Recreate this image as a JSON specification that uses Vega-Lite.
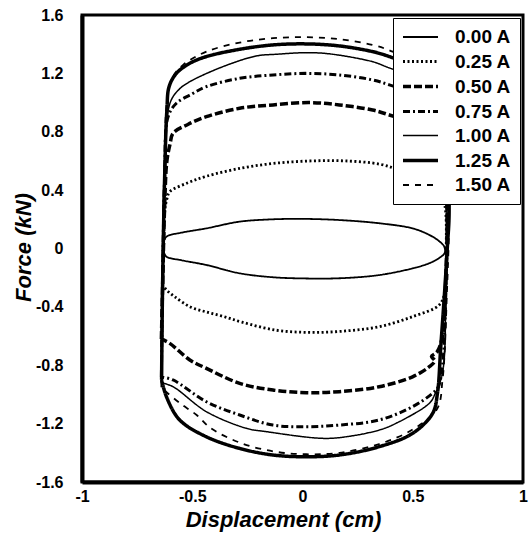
{
  "$schema": "https://vega.github.io/schema/vega-lite/v6.json",
  "width": 441,
  "height": 467,
  "autosize": {"type": "none"},
  "padding": {"left": 82, "top": 15, "right": 8, "bottom": 61},
  "background": "white",
  "datasets": {
    "loops": [
      {"s":"0.00 A","o":0,"x":-0.63,"y":-0.02},{"s":"0.00 A","o":1,"x":-0.632,"y":0.03},{"s":"0.00 A","o":2,"x":-0.617,"y":0.081},{"s":"0.00 A","o":3,"x":-0.55,"y":0.108},{"s":"0.00 A","o":4,"x":-0.436,"y":0.138},{"s":"0.00 A","o":5,"x":-0.285,"y":0.184},{"s":"0.00 A","o":6,"x":-0.134,"y":0.2},{"s":"0.00 A","o":7,"x":0.0,"y":0.203},{"s":"0.00 A","o":8,"x":0.167,"y":0.195},{"s":"0.00 A","o":9,"x":0.348,"y":0.173},{"s":"0.00 A","o":10,"x":0.499,"y":0.138},{"s":"0.00 A","o":11,"x":0.575,"y":0.093},{"s":"0.00 A","o":12,"x":0.62,"y":0.05},{"s":"0.00 A","o":13,"x":0.643,"y":0.012},{"s":"0.00 A","o":14,"x":0.645,"y":-0.03},{"s":"0.00 A","o":15,"x":0.62,"y":-0.065},{"s":"0.00 A","o":16,"x":0.575,"y":-0.101},{"s":"0.00 A","o":17,"x":0.499,"y":-0.136},{"s":"0.00 A","o":18,"x":0.348,"y":-0.182},{"s":"0.00 A","o":19,"x":0.167,"y":-0.204},{"s":"0.00 A","o":20,"x":0.0,"y":-0.205},{"s":"0.00 A","o":21,"x":-0.134,"y":-0.197},{"s":"0.00 A","o":22,"x":-0.285,"y":-0.17},{"s":"0.00 A","o":23,"x":-0.436,"y":-0.113},{"s":"0.00 A","o":24,"x":-0.55,"y":-0.08},{"s":"0.00 A","o":25,"x":-0.617,"y":-0.056},{"s":"0.00 A","o":26,"x":-0.63,"y":-0.02},

      {"s":"0.25 A","o":0,"x":-0.635,"y":-0.25},{"s":"0.25 A","o":1,"x":-0.63,"y":0.0},{"s":"0.25 A","o":2,"x":-0.625,"y":0.25},{"s":"0.25 A","o":3,"x":-0.615,"y":0.34},{"s":"0.25 A","o":4,"x":-0.602,"y":0.389},{"s":"0.25 A","o":5,"x":-0.52,"y":0.45},{"s":"0.25 A","o":6,"x":-0.436,"y":0.495},{"s":"0.25 A","o":7,"x":-0.274,"y":0.552},{"s":"0.25 A","o":8,"x":-0.118,"y":0.585},{"s":"0.25 A","o":9,"x":0.039,"y":0.6},{"s":"0.25 A","o":10,"x":0.196,"y":0.6},{"s":"0.25 A","o":11,"x":0.353,"y":0.577},{"s":"0.25 A","o":12,"x":0.45,"y":0.53},{"s":"0.25 A","o":13,"x":0.55,"y":0.47},{"s":"0.25 A","o":14,"x":0.62,"y":0.4},{"s":"0.25 A","o":15,"x":0.645,"y":0.3},{"s":"0.25 A","o":16,"x":0.652,"y":0.0},{"s":"0.25 A","o":17,"x":0.645,"y":-0.3},{"s":"0.25 A","o":18,"x":0.62,"y":-0.387},{"s":"0.25 A","o":19,"x":0.499,"y":-0.467},{"s":"0.25 A","o":20,"x":0.348,"y":-0.536},{"s":"0.25 A","o":21,"x":0.196,"y":-0.565},{"s":"0.25 A","o":22,"x":0.039,"y":-0.575},{"s":"0.25 A","o":23,"x":-0.118,"y":-0.56},{"s":"0.25 A","o":24,"x":-0.274,"y":-0.505},{"s":"0.25 A","o":25,"x":-0.36,"y":-0.465},{"s":"0.25 A","o":26,"x":-0.436,"y":-0.435},{"s":"0.25 A","o":27,"x":-0.511,"y":-0.399},{"s":"0.25 A","o":28,"x":-0.58,"y":-0.33},{"s":"0.25 A","o":29,"x":-0.617,"y":-0.284},{"s":"0.25 A","o":30,"x":-0.635,"y":-0.25},

      {"s":"0.50 A","o":0,"x":-0.64,"y":-0.62},{"s":"0.50 A","o":1,"x":-0.635,"y":-0.3},{"s":"0.50 A","o":2,"x":-0.625,"y":0.3},{"s":"0.50 A","o":3,"x":-0.615,"y":0.6},{"s":"0.50 A","o":4,"x":-0.6,"y":0.72},{"s":"0.50 A","o":5,"x":-0.587,"y":0.79},{"s":"0.50 A","o":6,"x":-0.52,"y":0.85},{"s":"0.50 A","o":7,"x":-0.436,"y":0.903},{"s":"0.50 A","o":8,"x":-0.285,"y":0.961},{"s":"0.50 A","o":9,"x":-0.134,"y":0.984},{"s":"0.50 A","o":10,"x":0.032,"y":1.0},{"s":"0.50 A","o":11,"x":0.167,"y":0.984},{"s":"0.50 A","o":12,"x":0.318,"y":0.949},{"s":"0.50 A","o":13,"x":0.394,"y":0.915},{"s":"0.50 A","o":14,"x":0.5,"y":0.86},{"s":"0.50 A","o":15,"x":0.6,"y":0.78},{"s":"0.50 A","o":16,"x":0.64,"y":0.65},{"s":"0.50 A","o":17,"x":0.655,"y":0.3},{"s":"0.50 A","o":18,"x":0.65,"y":-0.2},{"s":"0.50 A","o":19,"x":0.635,"y":-0.6},{"s":"0.50 A","o":20,"x":0.61,"y":-0.71},{"s":"0.50 A","o":21,"x":0.585,"y":-0.74},{"s":"0.50 A","o":22,"x":0.6,"y":-0.77},{"s":"0.50 A","o":23,"x":0.575,"y":-0.81},{"s":"0.50 A","o":24,"x":0.499,"y":-0.879},{"s":"0.50 A","o":25,"x":0.348,"y":-0.947},{"s":"0.50 A","o":26,"x":0.167,"y":-0.981},{"s":"0.50 A","o":27,"x":0.017,"y":-0.988},{"s":"0.50 A","o":28,"x":-0.134,"y":-0.97},{"s":"0.50 A","o":29,"x":-0.285,"y":-0.924},{"s":"0.50 A","o":30,"x":-0.436,"y":-0.821},{"s":"0.50 A","o":31,"x":-0.511,"y":-0.764},{"s":"0.50 A","o":32,"x":-0.602,"y":-0.65},{"s":"0.50 A","o":33,"x":-0.64,"y":-0.62},

      {"s":"0.75 A","o":0,"x":-0.64,"y":-0.88},{"s":"0.75 A","o":1,"x":-0.635,"y":-0.3},{"s":"0.75 A","o":2,"x":-0.625,"y":0.5},{"s":"0.75 A","o":3,"x":-0.61,"y":0.9},{"s":"0.75 A","o":4,"x":-0.572,"y":0.995},{"s":"0.75 A","o":5,"x":-0.5,"y":1.06},{"s":"0.75 A","o":6,"x":-0.436,"y":1.109},{"s":"0.75 A","o":7,"x":-0.285,"y":1.166},{"s":"0.75 A","o":8,"x":-0.134,"y":1.189},{"s":"0.75 A","o":9,"x":0.017,"y":1.2},{"s":"0.75 A","o":10,"x":0.167,"y":1.189},{"s":"0.75 A","o":11,"x":0.318,"y":1.155},{"s":"0.75 A","o":12,"x":0.394,"y":1.121},{"s":"0.75 A","o":13,"x":0.5,"y":1.06},{"s":"0.75 A","o":14,"x":0.6,"y":0.97},{"s":"0.75 A","o":15,"x":0.645,"y":0.8},{"s":"0.75 A","o":16,"x":0.655,"y":0.3},{"s":"0.75 A","o":17,"x":0.65,"y":-0.3},{"s":"0.75 A","o":18,"x":0.635,"y":-0.8},{"s":"0.75 A","o":19,"x":0.615,"y":-0.95},{"s":"0.75 A","o":20,"x":0.59,"y":-0.992},{"s":"0.75 A","o":21,"x":0.499,"y":-1.084},{"s":"0.75 A","o":22,"x":0.348,"y":-1.175},{"s":"0.75 A","o":23,"x":0.167,"y":-1.21},{"s":"0.75 A","o":24,"x":0.017,"y":-1.221},{"s":"0.75 A","o":25,"x":-0.134,"y":-1.21},{"s":"0.75 A","o":26,"x":-0.285,"y":-1.141},{"s":"0.75 A","o":27,"x":-0.436,"y":-1.05},{"s":"0.75 A","o":28,"x":-0.587,"y":-0.901},{"s":"0.75 A","o":29,"x":-0.64,"y":-0.88},

      {"s":"1.00 A","o":0,"x":-0.64,"y":-0.92},{"s":"1.00 A","o":1,"x":-0.635,"y":-0.3},{"s":"1.00 A","o":2,"x":-0.625,"y":0.6},{"s":"1.00 A","o":3,"x":-0.6,"y":1.0},{"s":"1.00 A","o":4,"x":-0.56,"y":1.09},{"s":"1.00 A","o":5,"x":-0.511,"y":1.143},{"s":"1.00 A","o":6,"x":-0.361,"y":1.246},{"s":"1.00 A","o":7,"x":-0.21,"y":1.319},{"s":"1.00 A","o":8,"x":-0.119,"y":1.331},{"s":"1.00 A","o":9,"x":0.032,"y":1.342},{"s":"1.00 A","o":10,"x":0.137,"y":1.331},{"s":"1.00 A","o":11,"x":0.318,"y":1.28},{"s":"1.00 A","o":12,"x":0.379,"y":1.246},{"s":"1.00 A","o":13,"x":0.5,"y":1.17},{"s":"1.00 A","o":14,"x":0.6,"y":1.05},{"s":"1.00 A","o":15,"x":0.645,"y":0.85},{"s":"1.00 A","o":16,"x":0.655,"y":0.3},{"s":"1.00 A","o":17,"x":0.65,"y":-0.3},{"s":"1.00 A","o":18,"x":0.635,"y":-0.85},{"s":"1.00 A","o":19,"x":0.6,"y":-1.0},{"s":"1.00 A","o":20,"x":0.575,"y":-1.061},{"s":"1.00 A","o":21,"x":0.424,"y":-1.198},{"s":"1.00 A","o":22,"x":0.348,"y":-1.244},{"s":"1.00 A","o":23,"x":0.198,"y":-1.29},{"s":"1.00 A","o":24,"x":0.092,"y":-1.301},{"s":"1.00 A","o":25,"x":-0.164,"y":-1.255},{"s":"1.00 A","o":26,"x":-0.255,"y":-1.232},{"s":"1.00 A","o":27,"x":-0.436,"y":-1.118},{"s":"1.00 A","o":28,"x":-0.587,"y":-0.947},{"s":"1.00 A","o":29,"x":-0.64,"y":-0.92},

      {"s":"1.25 A","o":0,"x":-0.639,"y":-0.9},{"s":"1.25 A","o":1,"x":-0.635,"y":-0.3},{"s":"1.25 A","o":2,"x":-0.625,"y":0.5},{"s":"1.25 A","o":3,"x":-0.615,"y":0.95},{"s":"1.25 A","o":4,"x":-0.605,"y":1.109},{"s":"1.25 A","o":5,"x":-0.572,"y":1.2},{"s":"1.25 A","o":6,"x":-0.511,"y":1.269},{"s":"1.25 A","o":7,"x":-0.436,"y":1.315},{"s":"1.25 A","o":8,"x":-0.285,"y":1.365},{"s":"1.25 A","o":9,"x":-0.134,"y":1.395},{"s":"1.25 A","o":10,"x":0.017,"y":1.402},{"s":"1.25 A","o":11,"x":0.167,"y":1.388},{"s":"1.25 A","o":12,"x":0.318,"y":1.349},{"s":"1.25 A","o":13,"x":0.394,"y":1.315},{"s":"1.25 A","o":14,"x":0.5,"y":1.25},{"s":"1.25 A","o":15,"x":0.6,"y":1.15},{"s":"1.25 A","o":16,"x":0.645,"y":0.95},{"s":"1.25 A","o":17,"x":0.665,"y":0.264},{"s":"1.25 A","o":18,"x":0.657,"y":0.012},{"s":"1.25 A","o":19,"x":0.643,"y":-0.33},{"s":"1.25 A","o":20,"x":0.627,"y":-0.673},{"s":"1.25 A","o":21,"x":0.612,"y":-0.992},{"s":"1.25 A","o":22,"x":0.59,"y":-1.13},{"s":"1.25 A","o":23,"x":0.499,"y":-1.267},{"s":"1.25 A","o":24,"x":0.348,"y":-1.358},{"s":"1.25 A","o":25,"x":0.167,"y":-1.415},{"s":"1.25 A","o":26,"x":0.017,"y":-1.427},{"s":"1.25 A","o":27,"x":-0.134,"y":-1.415},{"s":"1.25 A","o":28,"x":-0.285,"y":-1.37},{"s":"1.25 A","o":29,"x":-0.436,"y":-1.29},{"s":"1.25 A","o":30,"x":-0.557,"y":-1.175},{"s":"1.25 A","o":31,"x":-0.617,"y":-1.016},{"s":"1.25 A","o":32,"x":-0.639,"y":-0.9},

      {"s":"1.50 A","o":0,"x":-0.64,"y":-0.95},{"s":"1.50 A","o":1,"x":-0.635,"y":-0.3},{"s":"1.50 A","o":2,"x":-0.625,"y":0.6},{"s":"1.50 A","o":3,"x":-0.615,"y":1.0},{"s":"1.50 A","o":4,"x":-0.59,"y":1.17},{"s":"1.50 A","o":5,"x":-0.54,"y":1.26},{"s":"1.50 A","o":6,"x":-0.436,"y":1.349},{"s":"1.50 A","o":7,"x":-0.285,"y":1.411},{"s":"1.50 A","o":8,"x":-0.134,"y":1.441},{"s":"1.50 A","o":9,"x":0.017,"y":1.448},{"s":"1.50 A","o":10,"x":0.167,"y":1.434},{"s":"1.50 A","o":11,"x":0.318,"y":1.395},{"s":"1.50 A","o":12,"x":0.409,"y":1.349},{"s":"1.50 A","o":13,"x":0.5,"y":1.28},{"s":"1.50 A","o":14,"x":0.6,"y":1.17},{"s":"1.50 A","o":15,"x":0.65,"y":0.95},{"s":"1.50 A","o":16,"x":0.665,"y":0.3},{"s":"1.50 A","o":17,"x":0.655,"y":-0.3},{"s":"1.50 A","o":18,"x":0.635,"y":-0.9},{"s":"1.50 A","o":19,"x":0.61,"y":-1.1},{"s":"1.50 A","o":20,"x":0.5,"y":-1.24},{"s":"1.50 A","o":21,"x":0.348,"y":-1.34},{"s":"1.50 A","o":22,"x":0.167,"y":-1.4},{"s":"1.50 A","o":23,"x":0.017,"y":-1.41},{"s":"1.50 A","o":24,"x":-0.134,"y":-1.39},{"s":"1.50 A","o":25,"x":-0.285,"y":-1.33},{"s":"1.50 A","o":26,"x":-0.417,"y":-1.23},{"s":"1.50 A","o":27,"x":-0.48,"y":-1.141},{"s":"1.50 A","o":28,"x":-0.557,"y":-1.059},{"s":"1.50 A","o":29,"x":-0.62,"y":-0.98},{"s":"1.50 A","o":30,"x":-0.64,"y":-0.95}
    ]
  },
  "data": {"name": "loops"},
  "mark": {"type": "line", "color": "black", "interpolate": "catmull-rom", "strokeCap": "butt", "strokeJoin": "round"},
  "encoding": {
    "x": {
      "field": "x", "type": "quantitative",
      "scale": {"domain": [-1, 1], "nice": false, "zero": false},
      "axis": {
        "title": "Displacement (cm)",
        "values": [-1, -0.5, 0, 0.5, 1],
        "labelExpr": "datum.value < 0 ? '-' + format(-datum.value, '~g') : format(datum.value, '~g')",
        "grid": false, "ticks": false,
        "domainWidth": 4, "domainColor": "black",
        "labelFont": "Liberation Sans", "labelFontSize": 16, "labelFontWeight": "bold", "labelColor": "black",
        "labelPadding": 6, "labelFlush": false,
        "titleFont": "Liberation Sans", "titleFontSize": 22, "titleFontWeight": "bold", "titleFontStyle": "italic", "titleColor": "black",
        "titleX": 201, "titleY": 27, "titleBaseline": "top", "titleAlign": "center"
      }
    },
    "y": {
      "field": "y", "type": "quantitative",
      "scale": {"domain": [-1.6, 1.6], "nice": false, "zero": false},
      "axis": {
        "title": "Force (kN)",
        "values": [-1.6, -1.2, -0.8, -0.4, 0, 0.4, 0.8, 1.2, 1.6],
        "labelExpr": "datum.value < 0 ? '-' + format(-datum.value, '~g') : format(datum.value, '~g')",
        "grid": false, "ticks": false,
        "domainWidth": 4, "domainColor": "black",
        "labelFont": "Liberation Sans", "labelFontSize": 16, "labelFontWeight": "bold", "labelColor": "black",
        "labelPadding": 19, "labelFlush": false,
        "titleFont": "Liberation Sans", "titleFontSize": 22, "titleFontWeight": "bold", "titleFontStyle": "italic", "titleColor": "black",
        "titleX": -52, "titleY": 232, "titleAngle": 270, "titleBaseline": "alphabetic", "titleAlign": "center"
      }
    },
    "order": {"field": "o", "type": "quantitative"},
    "strokeDash": {
      "field": "s", "type": "nominal",
      "scale": {
        "domain": ["0.00 A", "0.25 A", "0.50 A", "0.75 A", "1.00 A", "1.25 A", "1.50 A"],
        "range": [[1, 0], [2, 2.5], [8, 3], [7, 3, 2, 3], [1, 0], [1, 0], [6, 6]]
      },
      "legend": {
        "title": null, "orient": "none", "legendX": 311, "legendY": 3,
        "padding": 9, "strokeColor": "black", "fillColor": "white",
        "symbolType": "M-2,0H2", "symbolSize": 306, "symbolOffset": 8, "symbolStrokeColor": "black",
        "labelOffset": 24, "rowPadding": 4,
        "labelFont": "Liberation Sans", "labelFontSize": 19, "labelFontWeight": "bold", "labelColor": "black", "labelLimit": 0
      }
    },
    "strokeWidth": {
      "field": "s", "type": "nominal",
      "scale": {
        "type": "ordinal",
        "domain": ["0.00 A", "0.25 A", "0.50 A", "0.75 A", "1.00 A", "1.25 A", "1.50 A"],
        "range": [1.8, 2.8, 3.5, 3, 1.5, 3.5, 1.8]
      },
      "legend": {
        "title": null, "orient": "none", "legendX": 311, "legendY": 3,
        "padding": 9, "strokeColor": "black", "fillColor": "white",
        "symbolType": "M-2,0H2", "symbolSize": 306, "symbolOffset": 8, "symbolStrokeColor": "black",
        "labelOffset": 24, "rowPadding": 4,
        "labelFont": "Liberation Sans", "labelFontSize": 19, "labelFontWeight": "bold", "labelColor": "black", "labelLimit": 0
      }
    }
  },
  "config": {
    "view": {"stroke": "black", "strokeWidth": 3},
    "legend": {"symbolStrokeColor": "black"}
  }
}
